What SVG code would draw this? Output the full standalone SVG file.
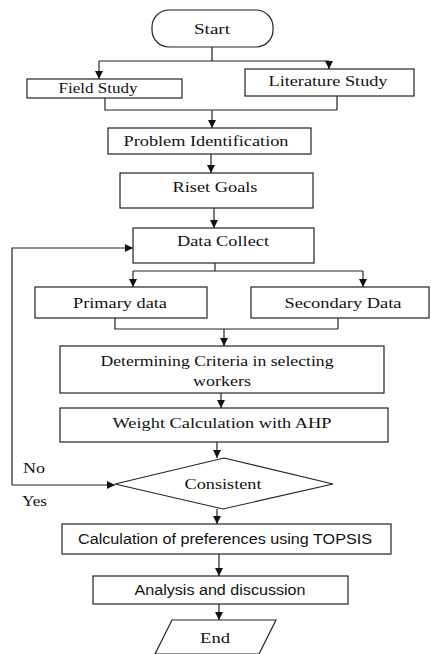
<svg xmlns="http://www.w3.org/2000/svg" width="431" height="654" viewBox="0 0 431 654">
  <defs>
    <marker id="arrow" viewBox="0 0 10 10" refX="10" refY="5" markerWidth="8" markerHeight="8" markerUnits="userSpaceOnUse" orient="auto">
      <path d="M0,0 L10,5 L0,10 Z" fill="#111"/>
    </marker>
    <style>
      .box { fill: #fff; stroke: #222; stroke-width: 1.2; }
      .edge { fill: none; stroke: #222; stroke-width: 1.2; }
      .arr { marker-end: url(#arrow); }
      .t { font-family: "Liberation Serif", "Times New Roman", serif; font-size: 14.5px; fill: #111; text-anchor: middle; }
      .s { font-family: "Liberation Sans", Arial, sans-serif; font-size: 14px; fill: #111; text-anchor: middle; }
      .lbl { font-family: "Liberation Serif", "Times New Roman", serif; font-size: 14.5px; fill: #111; }
    </style>
  </defs>
  <rect width="431" height="654" fill="#fff"/>

  <!-- connectors -->
  <g id="connectors">
    <!-- Start fans out to both studies -->
    <path class="edge" d="M212,47 V61 M99,61 H329"/>
    <path class="edge arr" d="M99,61 V79"/>
    <path class="edge arr" d="M329,61 V69"/>
    <!-- studies merge into problem identification -->
    <path class="edge" d="M105,98 V110 H337 M337,96 V110"/>
    <path class="edge arr" d="M212,110 V128"/>
    <path class="edge arr" d="M211,154 V173"/>
    <path class="edge arr" d="M214,208 V228"/>
    <!-- data collect splits -->
    <path class="edge" d="M215,263 V271 M133,271 H363"/>
    <path class="edge arr" d="M133,271 V287"/>
    <path class="edge arr" d="M363,271 V287"/>
    <!-- data merges into criteria -->
    <path class="edge" d="M115,318 V329 H338 M338,318 V329"/>
    <path class="edge arr" d="M224,329 V346"/>
    <path class="edge arr" d="M221,393 V408"/>
    <path class="edge arr" d="M217,442 V458"/>
    <!-- loop back on "No" -->
    <path class="edge arr" d="M12,485 V248 H133"/>
    <path class="edge arr" d="M12,485 H115"/>
    <path class="edge arr" d="M217,509 V524"/>
    <path class="edge arr" d="M219,554 V576"/>
    <path class="edge arr" d="M219,604 V620"/>
  </g>

  <g id="start">
    <rect class="box" x="152" y="10" width="121" height="37" rx="17" ry="17"/>
    <text class="t" x="212" y="34" textLength="36" lengthAdjust="spacingAndGlyphs">Start</text>
  </g>
  <g id="field-study">
    <rect class="box" x="27" y="79" width="155" height="19"/>
    <text class="t" x="98" y="93" textLength="79" lengthAdjust="spacingAndGlyphs">Field Study</text>
  </g>
  <g id="literature-study">
    <rect class="box" x="245" y="69" width="169" height="27"/>
    <text class="t" x="328" y="86" textLength="119" lengthAdjust="spacingAndGlyphs">Literature Study</text>
  </g>
  <g id="problem-identification">
    <rect class="box" x="108" y="128" width="203" height="26"/>
    <text class="t" x="206" y="146" textLength="165" lengthAdjust="spacingAndGlyphs">Problem Identification</text>
  </g>
  <g id="riset-goals">
    <rect class="box" x="120" y="173" width="193" height="35"/>
    <text class="t" x="215" y="192" textLength="85" lengthAdjust="spacingAndGlyphs">Riset Goals</text>
  </g>
  <g id="data-collect">
    <rect class="box" x="133" y="228" width="181" height="35"/>
    <text class="t" x="223" y="246" textLength="92" lengthAdjust="spacingAndGlyphs">Data Collect</text>
  </g>
  <g id="primary-data">
    <rect class="box" x="35" y="287" width="172" height="31"/>
    <text class="t" x="120" y="308" textLength="94" lengthAdjust="spacingAndGlyphs">Primary data</text>
  </g>
  <g id="secondary-data">
    <rect class="box" x="251" y="287" width="178" height="31"/>
    <text class="t" x="343" y="308" textLength="117" lengthAdjust="spacingAndGlyphs">Secondary Data</text>
  </g>
  <g id="criteria">
    <rect class="box" x="60" y="346" width="324" height="47"/>
    <text class="t" x="217" y="366" textLength="233" lengthAdjust="spacingAndGlyphs">Determining Criteria in selecting</text>
    <text class="t" x="222" y="386" textLength="58" lengthAdjust="spacingAndGlyphs">workers</text>
  </g>
  <g id="ahp">
    <rect class="box" x="60" y="408" width="328" height="34"/>
    <text class="t" x="222" y="428" textLength="219" lengthAdjust="spacingAndGlyphs">Weight Calculation with AHP</text>
  </g>
  <g id="consistent">
    <polygon class="box" points="224,458 333,484 223,509 115,484"/>
    <text class="t" x="223" y="489" textLength="77" lengthAdjust="spacingAndGlyphs">Consistent</text>
  </g>
  <text class="lbl" x="23" y="473" textLength="22" lengthAdjust="spacingAndGlyphs">No</text>
  <text class="lbl" x="22" y="506" textLength="25" lengthAdjust="spacingAndGlyphs">Yes</text>
  <g id="topsis">
    <rect class="box" x="62" y="524" width="329" height="30"/>
    <text class="s" x="225" y="544" textLength="294" lengthAdjust="spacingAndGlyphs">Calculation of preferences using TOPSIS</text>
  </g>
  <g id="analysis">
    <rect class="box" x="93" y="576" width="255" height="28"/>
    <text class="s" x="220" y="595" textLength="171" lengthAdjust="spacingAndGlyphs">Analysis and discussion</text>
  </g>
  <g id="end">
    <polygon class="box" points="172,620 276,620 259,654 155,654"/>
    <text class="t" x="215" y="643" textLength="30" lengthAdjust="spacingAndGlyphs">End</text>
  </g>
</svg>
